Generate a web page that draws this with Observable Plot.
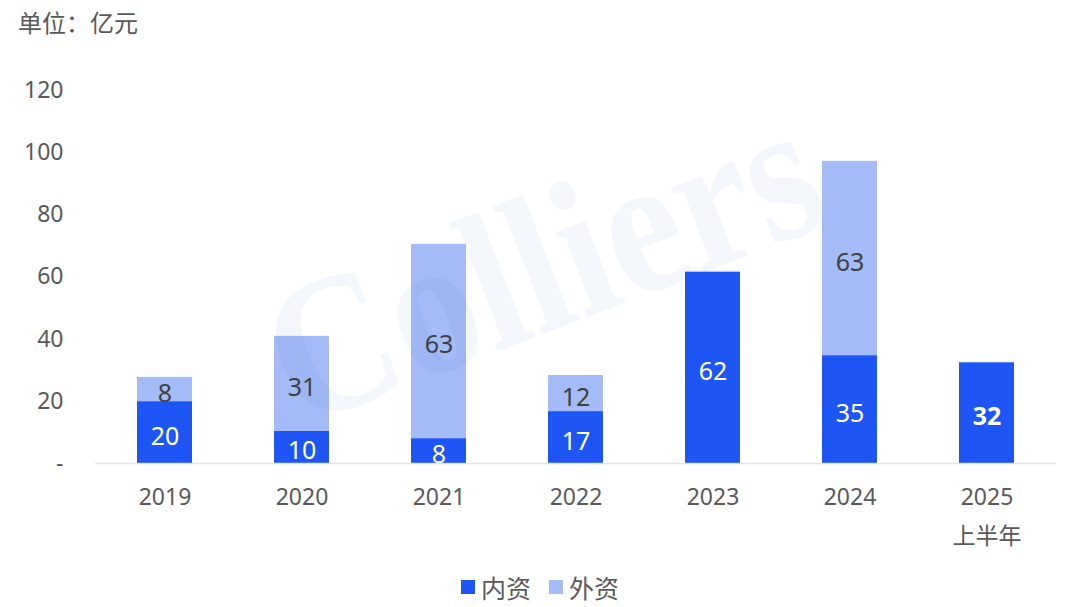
<!DOCTYPE html>
<html><head><meta charset="utf-8">
<script src="https://cdn.jsdelivr.net/npm/d3@7"></script>
<script src="https://cdn.jsdelivr.net/npm/@observablehq/plot@0.6"></script>
<style>
body{margin:0;background:#fff;font-family:"Noto Sans","Noto Sans CJK SC",sans-serif;}
#wrap{position:relative;width:1080px;height:607px;overflow:hidden;}
#title{position:absolute;left:18px;top:4px;font-size:24px;color:#595959;font-family:"Noto Sans CJK SC","Noto Sans",sans-serif;}
#chart{position:absolute;left:0;top:0;}
#wm{position:absolute;left:0;top:0;pointer-events:none;}
#legend{position:absolute;top:565px;left:0;width:1080px;text-align:center;font-size:25px;color:#595959;font-family:"Noto Sans CJK SC","Noto Sans",sans-serif;}
#legend span.it{display:inline-flex;align-items:center;margin:0 9px;}
#legend i{display:inline-block;width:14px;height:14px;margin-right:6px;}
</style></head>
<body>
<div id="wrap">
<div id="chart"></div>
<svg id="wm" width="1080" height="607"><g transform="translate(298,428) rotate(-21) scale(1,1.15)"><text x="0" y="0" font-family="Liberation Serif, serif" font-weight="bold" font-size="172" fill="rgb(41,84,169)" fill-opacity="0.055">Colliers</text></g></svg>
<div id="title">单位：亿元</div>
<div id="legend"></div>
</div>
<script>
const years = ["2019","2020","2021","2022","2023","2024","2025"];
const yearLabels = ["2019","2020","2021","2022","2023","2024","2025\n上半年"];
const domestic = [19.9, 10.3, 8.0, 16.7, 61.5, 34.7, 32.4];
const foreign = [7.8, 30.6, 62.5, 11.6, 0.3, 62.5, 0];
const domesticLabels = ["20","10","8","17","62","35","32"];
const foreignLabels = ["8","31","63","12","","63",""];
const seriesNames = ["内资","外资"];
const colors = ["#1e55f5","#a4bbf8"];
const yTicks = [0,20,40,60,80,100,120];

const data = [];
years.forEach((y,i)=>{
  data.push({year:y, type:seriesNames[0], value:domestic[i], label:domesticLabels[i], bold:i===6});
  data.push({year:y, type:seriesNames[1], value:foreign[i], label:foreignLabels[i], bold:false});
});

const labelOpts = (filter, weight) => Plot.stackY({
  filter, x:"year", y:"value", order:seriesNames, text:"label", dy:4,
  fill:d=>d.type===seriesNames[0]?"#ffffff":"#404040",
  fontWeight:weight, fontSize:25
});

const chart = Plot.plot({
  width:1080, height:560,
  marginTop:90, marginBottom:97, marginLeft:95, marginRight:24,
  style:{background:"transparent", fontFamily:"'Noto Sans','Noto Sans CJK SC',sans-serif"},
  x:{domain:years, paddingInner:0.6, paddingOuter:0.3, axis:null},
  y:{domain:[0,120], axis:null},
  color:{domain:seriesNames, range:colors},
  marks:[
    Plot.axisY({ticks:yTicks, tickSize:0, tickPadding:32, tickFormat:d=>d===0?"-":d, fontSize:23, fill:"#595959", label:null}),
    Plot.barY(data, {x:"year", y:"value", fill:"type", order:seriesNames}),
    Plot.ruleY([0], {stroke:"#dce3f8", strokeWidth:1.5}),
    Plot.text(data, labelOpts(d=>!d.bold, "normal")),
    Plot.text(data, labelOpts(d=>d.bold, "bold")),
    Plot.text(years, {x:d=>d, text:(d,i)=>yearLabels[i], frameAnchor:"bottom", lineAnchor:"top", dy:14, lineHeight:1.7, fontSize:23, fill:"#595959"})
  ]
});
document.getElementById("chart").appendChild(chart);

const lg = document.getElementById("legend");
seriesNames.forEach((n,i)=>{
  const s=document.createElement("span"); s.className="it";
  s.innerHTML=`<i style="background:${colors[i]}"></i>${n}`;
  lg.appendChild(s);
});
</script>
</body></html>
